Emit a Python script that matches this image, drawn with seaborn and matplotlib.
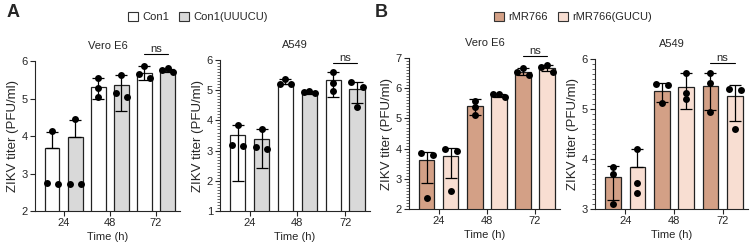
import numpy as np
import pandas as pd
import seaborn as sns
import matplotlib
matplotlib.use('Agg')
import matplotlib.pyplot as plt
from matplotlib.patches import Patch
from matplotlib.ticker import MultipleLocator

times = ['24', '48', '72']

# panel A: Con1 vs Con1(UUUCU)
groups_a = ['Con1', 'Con1(UUUCU)']
colors_a = ['#ffffff', '#d9d9d9']

vero_con1_mean = [3.67, 5.31, 5.69]
vero_con1_hi = [4.10, 5.54, 5.87]
vero_con1_lo = [3.67, 4.99, 5.50]
vero_con1_pts = [[4.14, 2.73, 2.74], [5.54, 5.27, 5.05], [5.87, 5.65, 5.55]]
vero_uuucu_mean = [3.97, 5.35, 5.73]
vero_uuucu_hi = [4.43, 5.63, 5.78]
vero_uuucu_lo = [3.97, 4.68, 5.70]
vero_uuucu_pts = [[4.45, 2.72, 2.72], [5.63, 5.14, 5.05], [5.82, 5.76, 5.71]]

a549_con1_mean = [3.51, 5.22, 5.34]
a549_con1_hi = [3.85, 5.36, 5.60]
a549_con1_lo = [1.99, 5.22, 4.79]
a549_con1_pts = [[3.85, 3.19, 3.14], [5.37, 5.22, 5.21], [5.60, 5.23, 4.97]]
a549_uuucu_mean = [3.38, 4.93, 5.04]
a549_uuucu_hi = [3.71, 4.98, 5.27]
a549_uuucu_lo = [2.41, 4.88, 4.57]
a549_uuucu_pts = [[3.71, 3.12, 3.05], [4.98, 4.95, 4.90], [5.27, 5.12, 4.46]]

# panel B: rMR766 vs rMR766(GUCU)
groups_b = ['rMR766', 'rMR766(GUCU)']
colors_b = ['#d3a086', '#f8ded2']

vero_rmr_mean = [3.64, 5.40, 6.55]
vero_rmr_hi = [3.90, 5.64, 6.67]
vero_rmr_lo = [2.87, 5.10, 6.44]
vero_rmr_pts = [[3.84, 3.79, 2.36], [5.59, 5.39, 5.10], [6.67, 6.55, 6.44]]
vero_gucu_mean = [3.74, 5.74, 6.67]
vero_gucu_hi = [4.01, 5.80, 6.78]
vero_gucu_lo = [3.03, 5.70, 6.56]
vero_gucu_pts = [[3.99, 3.92, 2.59], [5.81, 5.80, 5.71], [6.78, 6.69, 6.53]]

a549_rmr_mean = [3.65, 5.37, 5.47]
a549_rmr_hi = [3.87, 5.53, 5.72]
a549_rmr_lo = [3.18, 5.15, 4.99]
a549_rmr_pts = [[3.85, 3.70, 3.11], [5.51, 5.49, 5.12], [5.72, 5.52, 4.95]]
a549_gucu_mean = [3.85, 5.45, 5.27]
a549_gucu_hi = [4.20, 5.72, 5.49]
a549_gucu_lo = [3.85, 5.00, 4.77]
a549_gucu_pts = [[4.20, 3.52, 3.33], [5.72, 5.32, 5.21], [5.41, 5.39, 4.60]]

sns.set_style('ticks')
plt.rcParams['font.family'] = ['Liberation Sans', 'DejaVu Sans']
plt.rcParams['font.size'] = 8
plt.rcParams['axes.linewidth'] = 0.8
plt.rcParams['xtick.major.width'] = 0.8
plt.rcParams['ytick.major.width'] = 0.8
plt.rcParams['ytick.minor.width'] = 0.5


def spread(vals, px_per_unit, thresh=5.0, step=0.12):
    # cheap GraphPad-like scatter: spread only overlapping points
    vals = np.asarray(vals)
    order = list(np.argsort(vals)[::-1])
    clusters, cur = [], [order[0]]
    for i in order[1:]:
        if (vals[cur[-1]] - vals[i]) * px_per_unit < thresh:
            cur.append(i)
        else:
            clusters.append(cur)
            cur = [i]
    clusters.append(cur)
    offs = np.zeros(len(vals))
    for c in clusters:
        if len(c) == 2:
            pattern = [-step, step]
        else:
            pattern = [0, -step, step][:len(c)]
        for i, p in zip(c, pattern):
            offs[i] = p
    return offs


def draw_panel(fig, rect, title, groups, colors, means, his, los, pts,
               ylim, minor, ns_y):
    ax = fig.add_axes(rect)
    df = pd.DataFrame({
        'time': times * 2,
        'group': [groups[0]] * 3 + [groups[1]] * 3,
        'titer': means[0] + means[1],
    })
    sns.barplot(data=df, x='time', y='titer', hue='group', hue_order=groups,
                palette=colors, width=1.0, gap=0.36, errorbar=None,
                edgecolor='#222222', linewidth=0.9, saturation=1,
                legend=False, ax=ax)
    ax.set_ylim(*ylim)
    ax.set_xlim(-0.62, 2.52)
    h_px = rect[3] * fig.get_figheight() * fig.dpi
    px_per_unit = h_px / (ylim[1] - ylim[0])

    for g in range(2):
        off = -0.25 if g == 0 else 0.25
        for i in range(3):
            x = i + off
            m = means[g][i]
            ax.errorbar([x], [m],
                        yerr=[[m - los[g][i]], [his[g][i] - m]],
                        fmt='none', ecolor='black', elinewidth=0.9,
                        capsize=4, capthick=0.9, zorder=3)
            dx = spread(pts[g][i], px_per_unit)
            ax.scatter(x + dx, pts[g][i], s=25, color='black',
                       linewidths=0, zorder=4, clip_on=False)

    # ns bracket over the 72 h pair
    ax.plot([1.75, 2.25], [ns_y, ns_y], color='black', lw=0.8,
            clip_on=False)
    ax.text(2.0, ns_y, 'ns', ha='center', va='bottom', fontsize=8)

    ax.set_title(title, fontsize=8, pad=9)
    ax.set_xlabel('Time (h)', fontsize=8, labelpad=3)
    ax.set_ylabel('ZIKV titer (PFU/ml)', fontsize=9.5, labelpad=2)
    ax.yaxis.set_major_locator(MultipleLocator(1))
    if minor:
        ax.yaxis.set_minor_locator(MultipleLocator(0.1))
    ax.tick_params(axis='both', length=3.5, pad=1.5, labelsize=8)
    ax.tick_params(axis='y', which='minor', length=2)
    sns.despine(ax=ax)
    return ax


fig = plt.figure(figsize=(7.5, 2.45), dpi=100)

draw_panel(fig, [0.0467, 0.1388, 0.1933, 0.612], 'Vero E6', groups_a, colors_a,
           [vero_con1_mean, vero_uuucu_mean], [vero_con1_hi, vero_uuucu_hi],
           [vero_con1_lo, vero_uuucu_lo], [vero_con1_pts, vero_uuucu_pts],
           (2, 6), False, 6.2)
draw_panel(fig, [0.2933, 0.1388, 0.2, 0.616], 'A549', groups_a, colors_a,
           [a549_con1_mean, a549_uuucu_mean], [a549_con1_hi, a549_uuucu_hi],
           [a549_con1_lo, a549_uuucu_lo], [a549_con1_pts, a549_uuucu_pts],
           (1, 6), True, 5.9)
draw_panel(fig, [0.5453, 0.1469, 0.2013, 0.616], 'Vero E6', groups_b, colors_b,
           [vero_rmr_mean, vero_gucu_mean], [vero_rmr_hi, vero_gucu_hi],
           [vero_rmr_lo, vero_gucu_lo], [vero_rmr_pts, vero_gucu_pts],
           (2, 7), True, 7.08)
draw_panel(fig, [0.7933, 0.1469, 0.204, 0.612], 'A549', groups_b, colors_b,
           [a549_rmr_mean, a549_gucu_mean], [a549_rmr_hi, a549_gucu_hi],
           [a549_rmr_lo, a549_gucu_lo], [a549_rmr_pts, a549_gucu_pts],
           (3, 6), True, 5.93)

# panel letters and legends
fig.text(7 / 750, 1 - 17 / 245, 'A', fontsize=13, fontweight='bold')
fig.text(375 / 750, 1 - 17 / 245, 'B', fontsize=13, fontweight='bold')

for groups, colors, x0 in [(groups_a, colors_a, 128), (groups_b, colors_b, 494)]:
    handles = [Patch(facecolor=c, edgecolor='#333333', linewidth=0.8)
               for c in colors]
    fig.legend(handles, groups, loc='center left',
               bbox_to_anchor=(x0 / 750, 1 - 17 / 245), ncol=2,
               frameon=False, fontsize=8, handlelength=0.9,
               handleheight=0.9, handletextpad=0.4, columnspacing=0.9,
               borderaxespad=0, borderpad=0)

fig.savefig('out.png', dpi=100)
